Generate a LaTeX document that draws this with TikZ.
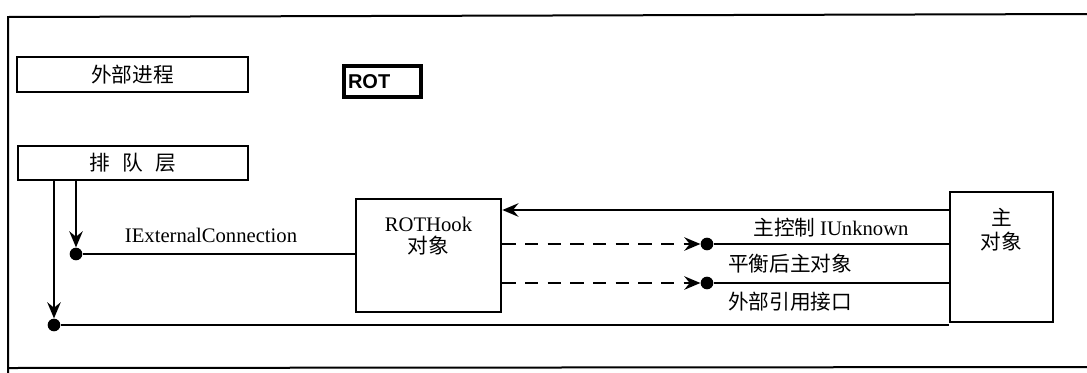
\documentclass[tikz,border=0pt]{standalone}
\usepackage{fontspec}
\setmainfont{Liberation Serif}
\newfontfamily\cjk{Noto Sans CJK SC}
\newfontfamily\rotfont{Liberation Sans}
\usetikzlibrary{arrows.meta}
\begin{document}
\begin{tikzpicture}[x=0.75pt,y=-0.75pt,
  box/.style 2 args={draw,line width=2pt,minimum width=#1*0.75pt,minimum height=#2*0.75pt,inner sep=0pt},
  dot/.style={circle,fill=black,minimum size=9.5pt,inner sep=0pt},
  conn/.style={line width=2.2pt},
  arr/.style={conn,-{Stealth[length=12pt,width=10pt,inset=4pt]}},
  darr/.style={conn,dash pattern=on 10pt off 7pt,-{Stealth[length=12pt,width=10pt,inset=4pt]}},
  cn/.style={font=\cjk\fontsize{15.5}{18}\selectfont},
  lt/.style={font=\fontsize{15.5}{18}\selectfont},
]
\useasboundingbox (0,0) rectangle (1087,372);
% frame
\draw[line width=1.5pt] (1095,14) -- (8,17) -- (8,380);
\draw[line width=1.5pt] (8,368) -- (1095,367);

% boxes
\node[box={231}{35},cn] (ext) at (132.5,74.5) {外部进程};
\node[box={77}{31},line width=2.4pt,font=\rotfont\bfseries\fontsize{15}{18}\selectfont,text width=69*0.75pt,align=left] (rot) at (382.5,81.5) {ROT};
\node[box={230}{34},cn] (queue) at (133,163) {排\hspace{0.6em}队\hspace{0.6em}层};
\node[box={145}{113}] (hook) at (428.5,255.5) {};
\node[lt,align=center,inner sep=0pt] (hooktext) at (428.5,236) {ROTHook\\[-1pt]{\cjk 对象}};
\node[box={103}{130}] (main) at (1001.5,257) {};
\node[cn,align=center,inner sep=0pt] (maintext) at (1001.5,230) {主\\对象};

% dots
\node[dot] (d1) at (76,254) {};
\node[dot] (d2) at (54,325) {};
\node[dot] (d3) at (707,244) {};
\node[dot] (d4) at (707,283) {};

% queue arrows
\draw[arr] (queue.south -| d1) -- (d1.north);
\draw[arr] (queue.south -| d2) -- (d2.north);

% connections
\draw[conn] (d1) -- (hook.west |- d1);
\draw[conn] (d2) -- (main.west |- d2);
\draw[arr] (main.west |- 0,210) -- (hook.east |- 0,210);
\draw[darr] (hook.east |- d3) -- (d3.west);
\draw[conn] (d3) -- (main.west |- d3);
\draw[darr] (hook.east |- d4) -- (d4.west);
\draw[conn] (d4) -- (main.west |- d4);

% labels
\node[lt,inner sep=0pt] (lext) at (211,235) {IExternalConnection};
\node[cn,inner sep=0pt] (l1) at (831,228) {主控制 {\rmfamily IUnknown}};
\node[cn,inner sep=0pt] (l2) at (790,264) {平衡后主对象};
\node[cn,inner sep=0pt] (l3) at (790,302) {外部引用接口};
\end{tikzpicture}
\end{document}
